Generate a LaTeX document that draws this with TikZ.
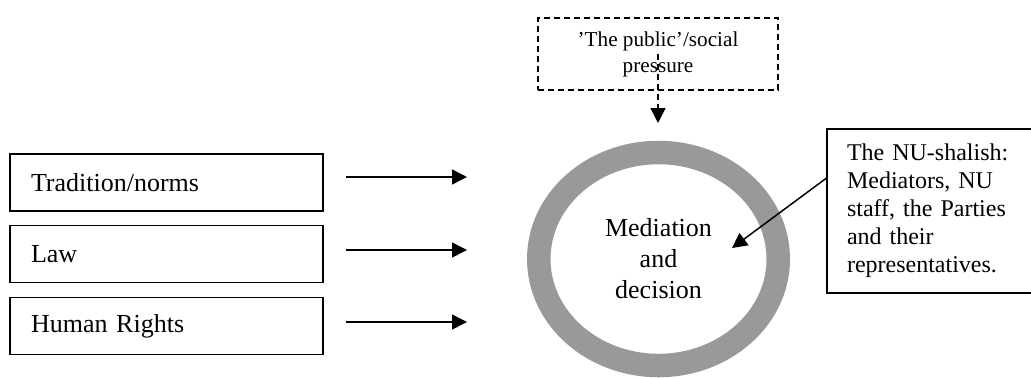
\documentclass[tikz,border=0pt]{standalone}
\usepackage{fontspec}
\setmainfont{Liberation Serif}
\definecolor{RingGray}{RGB}{153,153,153}
\usepackage{tikz}
\usetikzlibrary{shapes.geometric,arrows.meta}

\begin{document}
\begin{tikzpicture}[x=0.5pt,y=-0.5pt,line width=0.75pt]
				\tikzstyle{factor}=[draw, shape=rectangle, minimum width=156.5pt, minimum height=28.5pt, inner xsep=10.5pt, text width=135.5pt, align=left, font=\fontsize{13}{15.5}\selectfont];
				\tikzstyle{arr}=[-{Triangle[length=7.5pt,width=7.5pt]}];
				\useasboundingbox (0,0) rectangle (1031,377);
				\clip (0,0) rectangle (1031,377);
				\node [factor] (f1) at (166.5, 182.5) {Tradition/norms};
				\node [factor] (f2) at (166.5, 254) {Law};
				\node [factor] (f3) at (166.5, 326) {Human Rights};
				\coordinate (s1) at (346, 177);
				\coordinate (s2) at (346, 250);
				\coordinate (s3) at (346, 322);
				\coordinate (e1) at (467, 177);
				\coordinate (e2) at (467, 250);
				\coordinate (e3) at (467, 322);
				\draw [arr] (s1) -- (e1);
				\draw [arr] (s2) -- (e2);
				\draw [arr] (s3) -- (e3);
				\node [draw=RingGray, line width=11.75pt, shape=ellipse, minimum width=119.75pt, minimum height=106.5pt, align=center, font=\fontsize{13}{15.5}\selectfont] (med) at (658.5, 259) {Mediation\\and\\decision};
				\node [draw, dash pattern=on 3pt off 2pt, minimum width=120pt, minimum height=36pt, align=center, font=\fontsize{10.6}{13}\selectfont] (pub) at (658, 54) {'The public'/social\\pressure};
				\coordinate (pubtip) at (658, 123);
				\draw [arr, dash pattern=on 3pt off 2pt] (pub.center) -- (pubtip);
				\node [draw, minimum width=121.5pt, minimum height=82pt, inner xsep=10pt, text width=101.5pt, align=left, font=\fontsize{12}{14}\selectfont] (nu) at (948.5, 211) {The NU-shalish:\\Mediators, NU\\staff, the Parties\\and their\\representatives.};
				\coordinate (nutip) at (732, 248);
				\draw [arr] (nu.165) -- (nutip);
\end{tikzpicture}
\end{document}
